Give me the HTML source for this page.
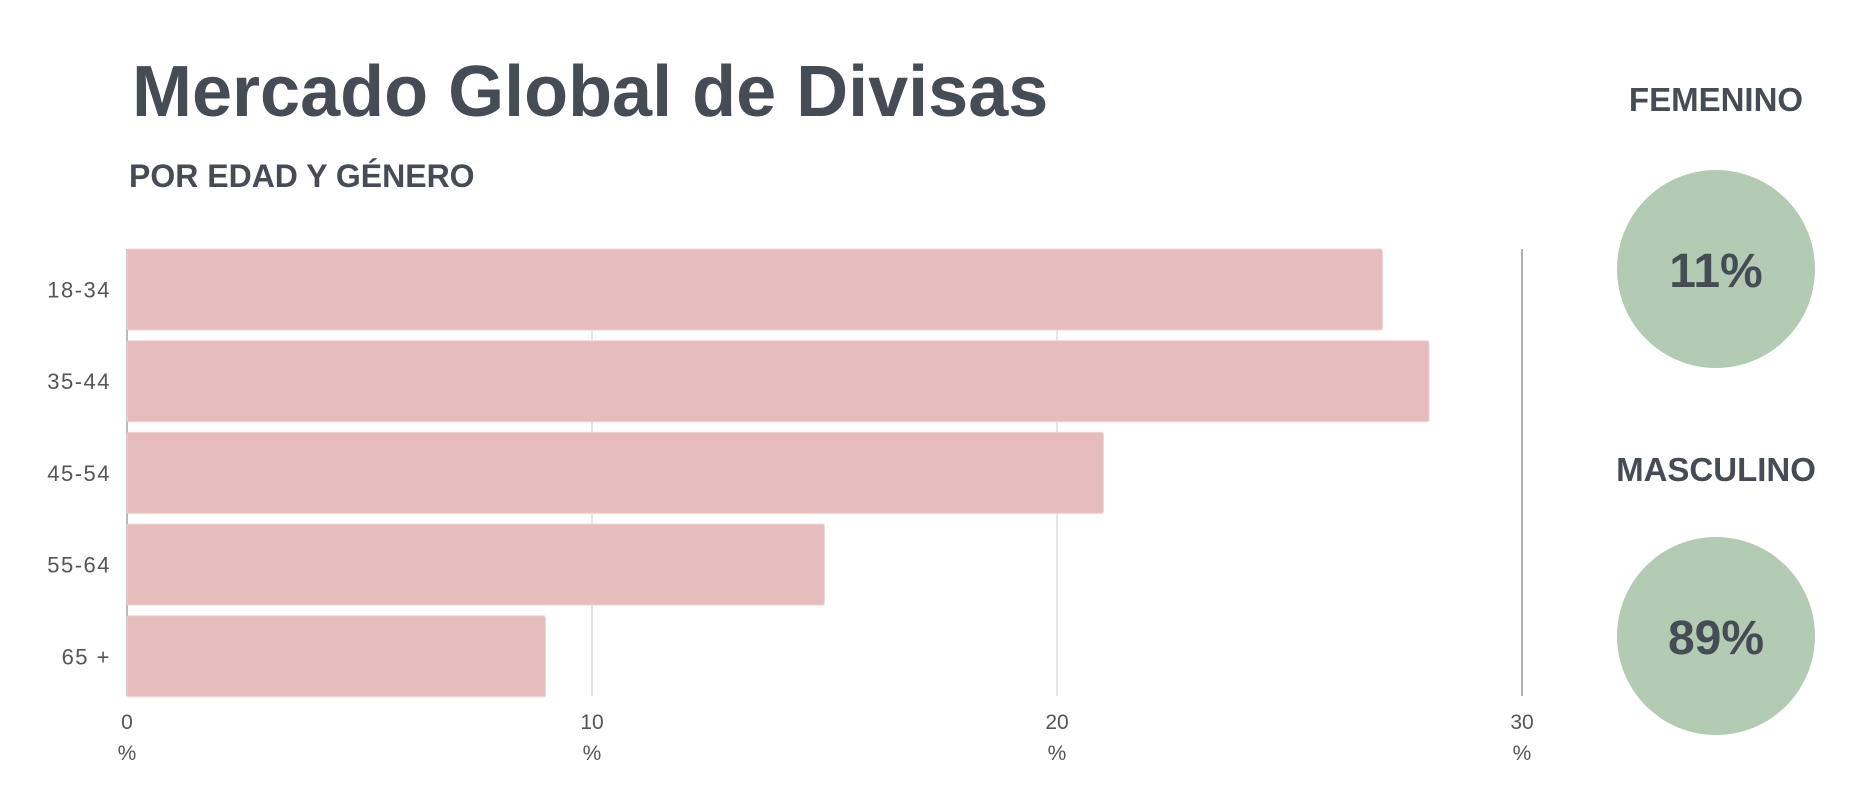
<!DOCTYPE html>
<html><head><meta charset="utf-8"><style>
body{margin:0;background:#fff;width:1875px;height:792px;overflow:hidden;font-family:"Liberation Sans",sans-serif;}
</style></head><body>
<svg width="1875" height="792">
<text x="132" y="116" font-size="72" font-weight="bold" fill="#464c55">Mercado Global de Divisas</text>
<text x="129" y="187" font-size="32" font-weight="bold" fill="#464c55">POR EDAD Y GÉNERO</text>
<g id="grid"></g><g id="bars"></g><g id="labels"></g>
<text x="1716" y="111" text-anchor="middle" font-size="33" font-weight="bold" fill="#464c55">FEMENINO</text>
<circle cx="1716" cy="269" r="99" fill="#b2cbb2"/>
<text x="1716" y="287" text-anchor="middle" font-size="48" font-weight="bold" fill="#464c55">11%</text>
<text x="1716" y="481" text-anchor="middle" font-size="33" font-weight="bold" fill="#464c55">MASCULINO</text>
<circle cx="1716" cy="636" r="99" fill="#b2cbb2"/>
<text x="1716" y="654" text-anchor="middle" font-size="48" font-weight="bold" fill="#464c55">89%</text>
</svg>
<script>
const categories=["18-34","35-44","45-54","55-64","65 +"];
const values=[27,28,21,15,9];
const ticks=[0,10,20,30];
const NS="http://www.w3.org/2000/svg";
const x0=127,pxPer=46.5,top0=249,band=91.7,bh=81;
const xs=v=>x0+v*pxPer;
function mk(t,a,p){const e=document.createElementNS(NS,t);for(const k in a)e.setAttribute(k,a[k]);p.appendChild(e);return e;}
const g=document.getElementById('grid'),b=document.getElementById('bars'),l=document.getElementById('labels');
ticks.forEach((t,i)=>{
 const ln=mk('line',{x1:xs(t),x2:xs(t),y1:249,y2:696,stroke:i==3?'#999':(i==0?'#bbb':'#e6e6e6'),'stroke-width':i==3?1.5:2},g);
 
 
 const tx=mk('text',{x:xs(t),y:729,'text-anchor':'middle','font-size':21,fill:'#555'},l);
 tx.textContent=t;
 
 
 const pc=mk('text',{x:xs(t),y:760,'text-anchor':'middle','font-size':21,fill:'#555'},l);
 pc.textContent='%';
 
 
});
categories.forEach((c,i)=>{
 const y=top0+i*band;
 const r=mk('rect',{x:x0,y:y,width:xs(values[i])-x0,height:bh,fill:'#e6bcbd',stroke:'#f0d6d6','stroke-width':1,rx:2},b);
 
 
 const t=mk('text',{x:111,y:y+bh/2+8,'text-anchor':'end','font-size':22,'letter-spacing':1.5,fill:'#555'},l);
 t.textContent=c;
 
 
});
</script>
</body></html>
